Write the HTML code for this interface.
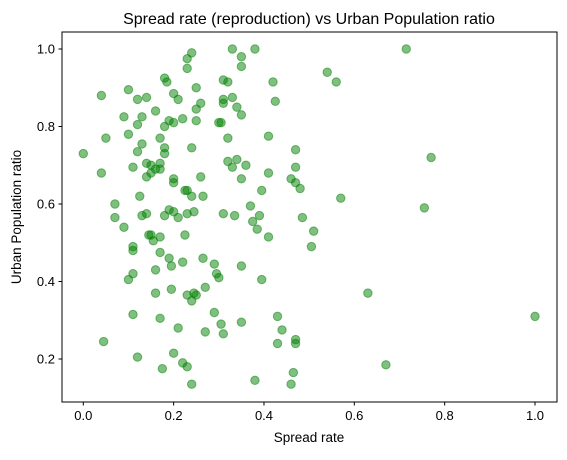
<!DOCTYPE html>
<html><head><meta charset="utf-8"><style>
html,body{margin:0;padding:0;background:#fff}
svg text{font-family:"Liberation Sans","DejaVu Sans",sans-serif;fill:#000}
</style></head><body>
<svg id="chart" width="567" height="455" xmlns="http://www.w3.org/2000/svg">
<rect width="567" height="455" fill="#fff"/>
<text x="309" y="24" font-size="16" text-anchor="middle">Spread rate (reproduction) vs Urban Population ratio</text>
<g id="marks"></g>
<g id="axes"></g>
<rect x="62" y="32" width="495" height="370" fill="none" stroke="#000" stroke-width="1"/>
<text x="309" y="442" font-size="13.5" text-anchor="middle">Spread rate</text>
<text x="0" y="0" font-size="13.5" text-anchor="middle" transform="translate(21,217) rotate(-90)">Urban Population ratio</text>
</svg>
<script>
const spreadRate = [0.24,0.33,0.38,0.35,0.35,0.23,0.23,0.18,0.185,0.54,0.56,0.715,0.42,0.31,0.32,0.04,0.10,0.12,0.14,0.20,0.21,0.25,0.26,0.25,0.31,0.31,0.33,0.34,0.425,0.09,0.13,0.16,0.19,0.18,0.20,0.22,0.25,0.30,0.305,0.35,0.05,0.10,0.12,0.17,0.32,0.41,0.00,0.12,0.13,0.18,0.18,0.24,0.47,0.77,0.04,0.11,0.14,0.15,0.16,0.17,0.17,0.14,0.15,0.20,0.20,0.26,0.32,0.34,0.33,0.36,0.35,0.41,0.46,0.47,0.47,0.48,0.395,0.225,0.23,0.125,0.24,0.265,0.57,0.07,0.755,0.19,0.2,0.21,0.18,0.14,0.13,0.23,0.245,0.31,0.335,0.39,0.07,0.09,0.37,0.375,0.385,0.41,0.485,0.51,0.505,0.145,0.15,0.155,0.17,0.225,0.11,0.11,0.17,0.19,0.195,0.22,0.265,0.29,0.295,0.30,0.35,0.11,0.10,0.16,0.16,0.195,0.23,0.245,0.25,0.27,0.24,0.395,0.63,0.17,0.21,0.29,0.305,0.27,0.31,0.35,0.43,0.44,0.47,0.47,0.43,1.0,0.11,0.045,0.12,0.2,0.22,0.23,0.24,0.175,0.38,0.465,0.46,0.67];
const urbanRatio = [0.99,1.0,1.0,0.98,0.955,0.975,0.95,0.925,0.915,0.94,0.915,1.0,0.915,0.92,0.915,0.88,0.895,0.87,0.875,0.885,0.87,0.90,0.86,0.845,0.87,0.86,0.875,0.85,0.865,0.825,0.825,0.84,0.815,0.80,0.81,0.82,0.815,0.81,0.81,0.83,0.77,0.78,0.805,0.77,0.77,0.775,0.73,0.735,0.755,0.73,0.745,0.745,0.74,0.72,0.68,0.695,0.705,0.70,0.69,0.705,0.69,0.67,0.68,0.665,0.655,0.67,0.71,0.715,0.695,0.70,0.665,0.68,0.665,0.695,0.655,0.64,0.635,0.635,0.635,0.62,0.62,0.62,0.615,0.60,0.59,0.585,0.58,0.565,0.57,0.575,0.57,0.575,0.58,0.575,0.57,0.57,0.565,0.54,0.595,0.555,0.535,0.515,0.565,0.53,0.49,0.52,0.52,0.505,0.515,0.52,0.49,0.48,0.475,0.46,0.44,0.45,0.46,0.445,0.42,0.41,0.44,0.42,0.405,0.43,0.37,0.38,0.365,0.37,0.365,0.385,0.35,0.405,0.37,0.305,0.28,0.32,0.29,0.27,0.265,0.295,0.31,0.275,0.25,0.24,0.24,0.31,0.315,0.245,0.205,0.215,0.19,0.18,0.135,0.175,0.145,0.165,0.135,0.185];
const xTicks = [0.0,0.2,0.4,0.6,0.8,1.0];
const yTicks = [0.2,0.4,0.6,0.8,1.0];
const xTickLabels = ["0.0","0.2","0.4","0.6","0.8","1.0"];
const yTickLabels = ["0.2","0.4","0.6","0.8","1.0"];

const NS="http://www.w3.org/2000/svg";
function xScale(v){return 83.3+v*451.7;}
function yScale(v){return 49+(1-v)*387.5;}
const marks=document.getElementById('marks');
for(let i=0;i<spreadRate.length;i++){
  const c=document.createElementNS(NS,'circle');
  c.setAttribute('cx',xScale(spreadRate[i]));
  c.setAttribute('cy',yScale(urbanRatio[i]));
  c.setAttribute('r',4.2);
  c.setAttribute('fill','rgba(0,128,0,0.5)');
  c.setAttribute('stroke','rgba(0,128,0,0.5)');
  c.setAttribute('stroke-width','1');
  
  
  marks.appendChild(c);
}
const axes=document.getElementById('axes');
xTicks.forEach((t,i)=>{
  const x=xScale(t);
  const l=document.createElementNS(NS,'line');
  l.setAttribute('x1',x);l.setAttribute('x2',x);l.setAttribute('y1',402);l.setAttribute('y2',405.5);
  l.setAttribute('stroke','#000');
  
  
  axes.appendChild(l);
  const tx=document.createElementNS(NS,'text');
  tx.setAttribute('x',x);tx.setAttribute('y',420);tx.setAttribute('font-size','13');tx.setAttribute('text-anchor','middle');
  tx.textContent=xTickLabels[i];
  
  
  axes.appendChild(tx);
});
yTicks.forEach((t,i)=>{
  const y=yScale(t);
  const l=document.createElementNS(NS,'line');
  l.setAttribute('x1',58.5);l.setAttribute('x2',62);l.setAttribute('y1',y);l.setAttribute('y2',y);
  l.setAttribute('stroke','#000');
  
  
  axes.appendChild(l);
  const tx=document.createElementNS(NS,'text');
  tx.setAttribute('x',55);tx.setAttribute('y',y+4.5);tx.setAttribute('font-size','13');tx.setAttribute('text-anchor','end');
  tx.textContent=yTickLabels[i];
  
  
  axes.appendChild(tx);
});
</script>
</body></html>
